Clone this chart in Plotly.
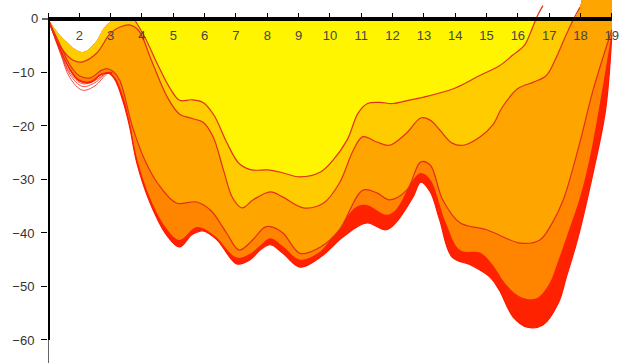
import plotly.graph_objects as go

# ---- data (depth profile boundaries, x = station, y = depth) ----
top_x = [1, 1.5, 2.1, 2.5, 2.8, 3.05, 3.3, 10, 17.0, 17.78, 17.98, 18.1, 19]
top_y = [0, -3.8, -6.2, -4.5, -1.6, -0.3, 0, 0, 0, 0, 2.2, 4, 4]

l1_x = [3.75, 4.1, 4.5, 4.9, 5.2, 5.6, 5.95, 6.3, 6.7, 7.1, 7.5, 8.0, 8.4, 9.05, 9.7, 10.1,
        10.55, 10.9, 11.2, 11.6, 12.0, 12.5, 13.0, 14.0, 14.8, 15.4, 15.85, 16.2, 16.4, 16.6, 16.8]
l1_y = [0, -3.5, -8.5, -13, -15.2, -15.1, -15.6, -18, -23, -27, -28.2, -28.2, -28.6, -29.5, -28.6, -26.4,
        -22.6, -17.6, -15.8, -15.6, -15.8, -15.2, -14.6, -12.9, -10.5, -8.8, -6.7, -5.0, -2.6, 0.3, 2.5]

l2_x = [1, 1.4, 1.8, 2.1, 2.55, 3.0, 3.3, 3.6, 3.9, 4.3, 4.8, 5.2, 5.6, 5.95, 6.27, 6.6, 6.9, 7.2,
        7.55, 8.1, 8.5, 9.15, 9.8, 10.3, 10.75, 11.05, 11.5, 11.9, 12.45, 12.9, 13.2, 13.5, 13.9,
        14.25, 14.8, 15.2, 15.5, 16.0, 16.5, 16.9, 17.2, 17.5, 17.78, 17.98]
l2_y = [0, -5.2, -7.7, -8.0, -6.4, -2.6, -1.5, -1.1, -2.2, -7.7, -14.5, -17.8, -18.6, -19.3, -22, -28.2, -33.5, -35.3,
        -33.8, -32.3, -33.3, -35.3, -34.4, -30.7, -24.5, -22, -23, -23.6, -21.3, -18.5, -18.9, -20.7, -23.2,
        -23.6, -22, -19.8, -16.5, -13, -11.8, -10.6, -7.5, -3.5, 0, 2.2]

l3_x = [1, 1.4, 1.7, 2.0, 2.35, 2.7, 2.9, 3.1, 3.3, 3.7, 4.1, 4.5, 5.1, 5.75, 6.2, 6.7, 7.1, 7.5, 7.9,
        8.1, 8.5, 9.05, 9.7, 10.3, 11.05, 11.5, 11.9, 12.45, 12.9, 13.2, 13.6, 14.15, 15.0, 16.1, 16.7,
        17.1, 17.45, 18.0, 18.4, 19]
l3_y = [0, -5, -8.6, -10.6, -11, -9.6, -9.3, -9.9, -11.6, -20.2, -26.5, -30.7, -34.4, -34.2, -35.8, -40, -43.2, -41.5, -39,
        -38.8, -40, -43.8, -42.6, -39.4, -32, -32.5, -33.8, -32, -26.7, -27.3, -33.8, -38.1, -39.4, -41.9, -41.3,
        -38.1, -33.8, -22.6, -13.3, -2]

l4_x = [1, 1.4, 1.7, 2.0, 2.35, 2.7, 2.95, 3.15, 3.4, 3.6, 3.84, 4.26, 4.8, 5.2, 5.75, 6.3, 7.03, 7.45, 7.8,
        8.1, 8.5, 9.05, 9.7, 10.3, 10.85, 11.2, 11.8, 12.1, 12.65, 12.9, 13.2, 13.7, 14.15, 14.8, 15.2,
        15.6, 16.1, 16.6, 17.0, 17.3, 17.6, 18.0, 18.3, 18.6, 19]
l4_y = [0, -5.6, -9.2, -11.3, -11.6, -10.2, -10, -11, -14.5, -19, -26, -33.5, -39.3, -41.3, -38.9, -40.4, -44.6, -43.9, -42.2,
        -41, -42.5, -45, -43.4, -38.9, -35.1, -34.8, -36.6, -35.7, -30.1, -28.8, -30, -38.1, -43.2, -43.7, -46,
        -49.5, -52, -52.2, -49.5, -45, -40, -33, -25.8, -16.4, -2.5]

l5_x = [1, 1.4, 1.7, 2.0, 2.35, 2.7, 2.95, 3.15, 3.4, 3.6, 3.84, 4.26, 4.8, 5.2, 5.6, 5.95, 6.4, 7.03, 7.45,
        7.77, 8.1, 8.5, 9.05, 9.7, 10.3, 10.85, 11.2, 11.8, 12.1, 12.65, 12.9, 13.2, 13.5, 13.9, 14.5,
        15.1, 15.4, 15.85, 16.3, 16.8, 17.3, 17.55, 17.9, 18.4, 18.8, 19]
l5_y = [0, -5.8, -9.5, -11.6, -11.9, -10.4, -10.2, -11.5, -15.5, -20, -27, -34.4, -40.5, -42.6, -40.3, -39.6, -41.3, -45.8, -45,
        -43.2, -42.2, -43.8, -46.4, -44.5, -41.3, -38.9, -38.1, -39.4, -38.1, -33.3, -30.5, -32.3, -37.5, -44.5, -46,
        -48.2, -50.6, -55.7, -57.6, -57.2, -53, -48.2, -41.3, -28.8, -17, -3]

# thin loose lines at the left end
thin_x = [1, 1.4, 1.7, 2.1, 2.5, 2.9, 3.05]
thin_a = [0, -6.5, -11, -13.3, -12.5, -10.2, -10.2]
thin_b = [0, -6.2, -10.4, -12.6, -11.9, -10.0, -10.1]
thin_c = [0, -6.0, -10.0, -12.1, -11.5, -10.0, -10.0]

x_ticks = list(range(1, 20))
x_labels = [""] + [str(i) for i in range(2, 20)]
y_ticks = [-10, -20, -30, -40, -50, -60]
y_zero_label = "0"

colors = {"yellow": "#FFF500", "gold": "#FFCC00", "orange": "#FFA500",
          "dkorange": "#FF8400", "red": "#FF2200"}
line_col = "#E2301C"

fig = go.Figure()


def band(tx, ty, bx, by, color):
    fig.add_trace(go.Scatter(x=tx, y=ty, mode="lines", line=dict(width=0, shape="spline"),
                             hoverinfo="skip", showlegend=False))
    fig.add_trace(go.Scatter(x=bx, y=by, mode="lines", fill="tonexty", fillcolor=color,
                             line=dict(width=0, shape="spline"), hoverinfo="skip", showlegend=False))


band(top_x, top_y, l5_x, l5_y, colors["red"])
band(top_x, top_y, l4_x, l4_y, colors["dkorange"])
band(top_x, top_y, l3_x, l3_y, colors["orange"])

cut = l2_x[l2_y.index(0, 5)]
gt_x = [x for x in top_x if x <= cut]
gt_y = [y for x, y in zip(top_x, top_y) if x <= cut]
band(gt_x, gt_y, l2_x, [min(v, 0) for v in l2_y], colors["gold"])
band([l1_x[0], l1_x[-1]], [0, 0], l1_x, [min(v, 0) for v in l1_y], colors["yellow"])

for xs, ys in [(thin_x, thin_a), (thin_x, thin_b), (thin_x, thin_c)]:
    fig.add_trace(go.Scatter(x=xs, y=ys, mode="lines", line=dict(width=0.8, color="#F02010", shape="spline"),
                             hoverinfo="skip", showlegend=False))
fig.add_trace(go.Scatter(x=l5_x, y=l5_y, mode="lines", line=dict(width=1.2, color="#FF1A00", shape="spline"),
                         hoverinfo="skip", showlegend=False))
for xs, ys in [(l1_x, l1_y), (l2_x, l2_y), (l3_x, l3_y)]:
    fig.add_trace(go.Scatter(x=xs, y=ys, mode="lines", line=dict(width=1.2, color=line_col, shape="spline"),
                             hoverinfo="skip", showlegend=False))

y_min, y_max = -64.3, 3.55
x_min, x_max = 1, 19.42
pos = (0 - y_min) / (y_max - y_min)

fig.update_layout(
    width=625, height=363,
    margin=dict(l=48, r=0, t=0, b=0, autoexpand=False),
    plot_bgcolor="white", paper_bgcolor="white",
    font=dict(family="Arial, Liberation Sans, sans-serif", size=13, color="#333333"),
    xaxis=dict(range=[x_min, x_max], side="top", anchor="free", position=pos,
               tickvals=x_ticks, ticktext=x_labels, ticks="outside", ticklen=6, tickwidth=1.2,
               tickcolor="black", ticklabelposition="inside", ticklabelstandoff=8,
               showline=False, showgrid=False, zeroline=False, fixedrange=True, automargin=False),
    yaxis=dict(range=[y_min, y_max], tickvals=y_ticks, ticks="outside", ticklen=6,
               tickwidth=1.2, tickcolor="black", ticklabelstandoff=4, showline=False, showgrid=False,
               zeroline=False, fixedrange=True, automargin=False),
    annotations=[dict(text=y_zero_label, xref="paper", x=0, yref="y", y=0, xanchor="right",
                      yanchor="middle", xshift=-8, showarrow=False,
                      font=dict(family="Arial, Liberation Sans, sans-serif", size=13, color="#333333"))],
    shapes=[
        dict(type="line", xref="x", yref="y", x0=1, x1=19, y0=0, y1=0,
             line=dict(color="black", width=4), layer="above"),
        dict(type="line", xref="x", yref="y", x0=1, x1=1, y0=0, y1=-60,
             line=dict(color="black", width=4), layer="above"),
        dict(type="line", xref="x", yref="y", x0=1, x1=1, y0=-60, y1=y_min,
             line=dict(color="black", width=1.2), layer="above"),
        dict(type="line", xref="paper", yref="y", xsizemode="pixel", xanchor=0, x0=-6, x1=0,
             y0=0, y1=0, line=dict(color="black", width=1.2), layer="above"),
    ],
)

fig.write_html("out.html", config={"displayModeBar": False},
               post_script="document.body.style.margin='0';document.body.style.overflow='hidden';")
